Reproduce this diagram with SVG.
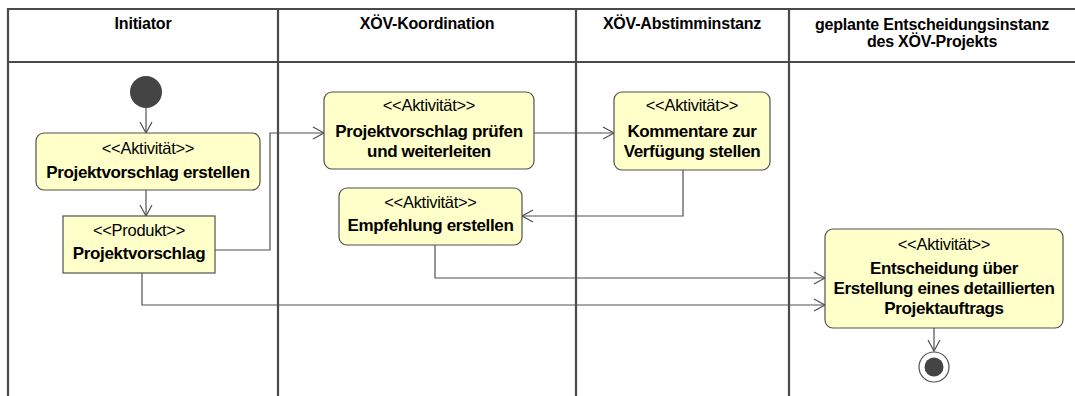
<svg xmlns="http://www.w3.org/2000/svg" width="1075" height="396" viewBox="0 0 1075 396">
<style>
.lane{stroke:#4a4a4a;stroke-width:2.2;fill:none}
.hd{font-family:"Liberation Sans",Arial,sans-serif;font-weight:bold;font-size:16px;fill:#000;text-anchor:middle;letter-spacing:-0.2px}
.act{fill:#ffffca;stroke:#505050;stroke-width:1.2}
.st{font-family:"Liberation Sans",Arial,sans-serif;font-size:16.5px;fill:#000;text-anchor:middle;letter-spacing:-0.3px}
.nm{font-family:"Liberation Sans",Arial,sans-serif;font-weight:bold;font-size:17px;fill:#000;text-anchor:middle;letter-spacing:-0.35px}
.cn{fill:none;stroke:#505050;stroke-width:1.2}
</style>
<defs>
<marker id="arr" markerWidth="14" markerHeight="14" refX="12" refY="7" orient="auto" markerUnits="userSpaceOnUse">
<path d="M1,1 L12,7 L1,13" fill="none" stroke="#505050" stroke-width="1.2"/>
</marker>
</defs>
<rect width="1075" height="396" fill="#fff"/>
<g id="lanes">
<path class="lane" d="M8,396 V9 H1075 M8,62 H1075 M278,9 V396 M576,9 V396 M789,9 V396"/>
<text class="hd" x="143" y="28.5">Initiator</text>
<text class="hd" x="427" y="28.5">XÖV-Koordination</text>
<text class="hd" x="682" y="28.5">XÖV-Abstimminstanz</text>
<text class="hd" x="932" y="29.5">geplante Entscheidungsinstanz</text>
<text class="hd" x="932" y="46.5">des XÖV-Projekts</text>
</g>
<g id="connectors">
<path class="cn" d="M146,108 V133" marker-end="url(#arr)"/>
<path class="cn" d="M146,190 V216" marker-end="url(#arr)"/>
<path class="cn" d="M215,250 H270 V133 H324" marker-end="url(#arr)"/>
<path class="cn" d="M534,133 H614" marker-end="url(#arr)"/>
<path class="cn" d="M683,170 V216 H522" marker-end="url(#arr)"/>
<path class="cn" d="M435,245 V278 H825" marker-end="url(#arr)"/>
<path class="cn" d="M142,273 V305 H825" marker-end="url(#arr)"/>
<path class="cn" d="M934,328 V351" marker-end="url(#arr)"/>
</g>
<g id="start">
<circle cx="146" cy="92" r="16" fill="#444"/>
</g>
<g id="a1">
<rect class="act" x="36" y="133" width="224" height="57" rx="8"/>
<text class="st" x="148" y="153.5">&lt;&lt;Aktivität&gt;&gt;</text>
<text class="nm" x="148" y="177.5">Projektvorschlag erstellen</text>
</g>
<g id="p1">
<rect class="act" x="63" y="216" width="152" height="57"/>
<text class="st" x="139" y="235.5">&lt;&lt;Produkt&gt;&gt;</text>
<text class="nm" x="139" y="259">Projektvorschlag</text>
</g>
<g id="a2">
<rect class="act" x="324" y="92" width="210" height="77" rx="8"/>
<text class="st" x="429" y="111">&lt;&lt;Aktivität&gt;&gt;</text>
<text class="nm" x="429" y="137">Projektvorschlag prüfen</text>
<text class="nm" x="429" y="157">und weiterleiten</text>
</g>
<g id="a3">
<rect class="act" x="614" y="92" width="156" height="78" rx="8"/>
<text class="st" x="692" y="111">&lt;&lt;Aktivität&gt;&gt;</text>
<text class="nm" x="692" y="137">Kommentare zur</text>
<text class="nm" x="692" y="157">Verfügung stellen</text>
</g>
<g id="a4">
<rect class="act" x="339" y="188" width="183" height="57" rx="8"/>
<text class="st" x="430.5" y="207.5">&lt;&lt;Aktivität&gt;&gt;</text>
<text class="nm" x="430.5" y="231">Empfehlung erstellen</text>
</g>
<g id="a5">
<rect class="act" x="825" y="229" width="238" height="99" rx="8"/>
<text class="st" x="944" y="250">&lt;&lt;Aktivität&gt;&gt;</text>
<text class="nm" x="944" y="274">Entscheidung über</text>
<text class="nm" x="944" y="294">Erstellung eines detaillierten</text>
<text class="nm" x="944" y="314">Projektauftrags</text>
</g>
<g id="end">
<circle cx="934" cy="367" r="15" fill="#fff" stroke="#505050" stroke-width="1.2"/>
<circle cx="934" cy="367" r="9.5" fill="#444"/>
</g>
</svg>
